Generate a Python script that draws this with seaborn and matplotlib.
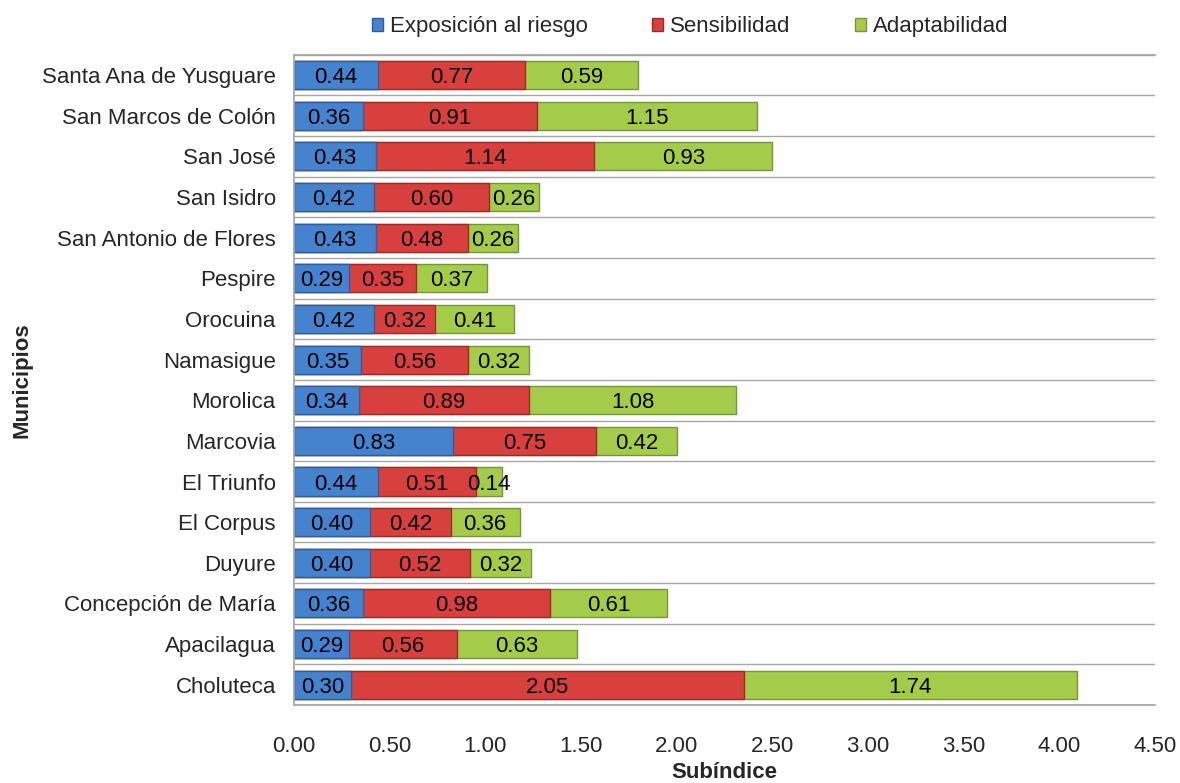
import numpy as np
import pandas as pd
import seaborn as sns
import matplotlib.pyplot as plt

# municipios, de arriba hacia abajo
municipios = ['Santa Ana de Yusguare', 'San Marcos de Colón', 'San José', 'San Isidro',
              'San Antonio de Flores', 'Pespire', 'Orocuina', 'Namasigue', 'Morolica',
              'Marcovia', 'El Triunfo', 'El Corpus', 'Duyure', 'Concepción de María',
              'Apacilagua', 'Choluteca']
exposicion = [0.44, 0.36, 0.43, 0.42, 0.43, 0.29, 0.42, 0.35, 0.34, 0.83, 0.44, 0.40, 0.40, 0.36, 0.29, 0.30]
sensibilidad = [0.77, 0.91, 1.14, 0.60, 0.48, 0.35, 0.32, 0.56, 0.89, 0.75, 0.51, 0.42, 0.52, 0.98, 0.56, 2.05]
adaptabilidad = [0.59, 1.15, 0.93, 0.26, 0.26, 0.37, 0.41, 0.32, 1.08, 0.42, 0.14, 0.36, 0.32, 0.61, 0.63, 1.74]
xticks = [0.0, 0.5, 1.0, 1.5, 2.0, 2.5, 3.0, 3.5, 4.0, 4.5]

series = ['Exposición al riesgo', 'Sensibilidad', 'Adaptabilidad']
colores = ['#4683cf', '#d8403d', '#a5cc48']
bordes = ['#2d5e9e', '#9e2b28', '#76943a']

sns.set_theme(style='white')
plt.rcParams['font.family'] = ['Liberation Sans', 'DejaVu Sans']
fs = 16

df = pd.DataFrame({'Municipio': municipios, 'exp': exposicion,
                   'sen': sensibilidad, 'ada': adaptabilidad})
df['c1'] = df['exp']
df['c2'] = df['exp'] + df['sen']
df['c3'] = df['c2'] + df['ada']

fig = plt.figure(figsize=(11.8, 7.83), dpi=100)
ax = fig.add_axes([0.249, 0.0996, 0.73, 0.8304])

# stacked bars: draw cumulative totals from longest to shortest
for col, c, e, lab in zip(['c3', 'c2', 'c1'], colores[::-1], bordes[::-1], series[::-1]):
    sns.barplot(data=df, x=col, y='Municipio', orient='h', color=c, edgecolor=e,
                linewidth=1, width=0.69, ax=ax, label=lab, saturation=1)

# value labels centered in each segment
for i in range(len(municipios)):
    starts = [0, df['c1'][i], df['c2'][i]]
    vals = [exposicion[i], sensibilidad[i], adaptabilidad[i]]
    for s, v in zip(starts, vals):
        ax.text(s + v / 2, i, f'{v:.2f}', ha='center', va='center_baseline',
                fontsize=fs, color='black')

ax.set_xlim(0, 4.5)
ax.set_ylim(len(municipios) - 0.5, -0.5)
ax.set_xticks(xticks)
ax.set_xticklabels([f'{t:.2f}' for t in xticks], fontsize=fs)
ax.tick_params(axis='y', labelsize=fs, length=0, pad=13)
ax.tick_params(axis='x', length=0, pad=22)

# gray lines between categories
ax.set_yticks(np.arange(len(municipios) + 1) - 0.5, minor=True)
ax.grid(which='minor', axis='y', color='#a6a6a6', linewidth=1)
ax.grid(which='major', visible=False)
ax.set_axisbelow(True)
ax.spines['right'].set_visible(False)
for sp in ['top', 'bottom', 'left']:
    ax.spines[sp].set_color('#a6a6a6')

ax.set_xlabel('Subíndice', fontsize=fs, fontweight='bold')
ax.set_ylabel('Municipios', fontsize=fs, fontweight='bold')
ax.xaxis.set_label_coords(0.5, -0.088)
ax.yaxis.set_label_coords(-0.303, 0.5)

handles, labels = ax.get_legend_handles_labels()
order = [labels.index(s) for s in series]
ax.legend([handles[k] for k in order], series, loc='center', bbox_to_anchor=(0.46, 1.043),
          ncol=3, frameon=False, fontsize=fs, handlelength=0.5, handleheight=0.5,
          handletextpad=0.3, columnspacing=2.9)

fig.savefig('out.png', dpi=100)
